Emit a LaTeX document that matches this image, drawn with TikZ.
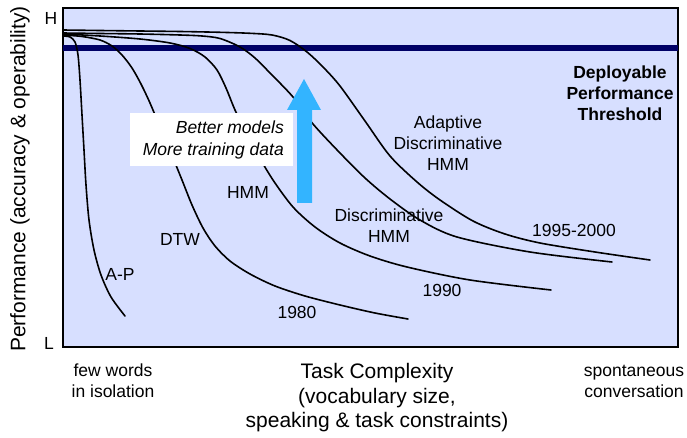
\documentclass[tikz,border=0pt]{standalone}
\usepackage{fontspec}
\setmainfont{Liberation Sans}
\definecolor{plotbg}{RGB}{215,223,255}
\definecolor{navyline}{RGB}{0,0,102}
\definecolor{arrowblue}{RGB}{51,180,255}
\begin{document}
\begin{tikzpicture}[x=1pt,y=-1pt,
  curve/.style={line width=1.6pt, line cap=round, line join=round},
  lbl/.style={font=\fontsize{17.5}{21}\selectfont, inner sep=0pt, align=center},
  biglbl/.style={font=\fontsize{21}{24.5}\selectfont, inner sep=0pt, align=center},
  boldlbl/.style={font=\fontsize{17.5}{21}\selectfont\bfseries, inner sep=0pt, align=center}]
\useasboundingbox (0,0) rectangle (687,438);
\fill[white] (0,0) rectangle (687,438);
% plot area
\draw[fill=plotbg, line width=1.3pt] (63,8) rectangle (678,347);
% threshold
\draw[navyline, line width=5.5pt] (63,48) -- (678,48);
% A-P
\draw[curve] plot[smooth, tension=0.5] coordinates {(63,36) (70,37) (75,42) (78,55) (80,80) (82,115) (84,150) (86,185) (89,220) (94,250) (101,275) (111,297) (125,316)};
% DTW / 1980
\draw[curve] plot[smooth, tension=0.5] coordinates {(63,35) (82,36.5) (100,40) (112,46) (122,55) (132,68) (141,84) (150,103) (160,127) (171,153) (182,180) (192,205) (203,228) (215,246) (230,261) (250,274) (275,286) (305,296) (340,305) (375,313) (408,319)};
% HMM / 1990
\draw[curve] plot[smooth, tension=0.5] coordinates {(63,34) (100,36) (140,39) (170,43) (190,48.5) (205,57) (217,70) (226,88) (235,110) (245,130) (255,150) (273,180) (293,207) (315,227) (340,243) (370,256) (407,267) (470,280) (551,290)};
% Discriminative HMM
\draw[curve] plot[smooth, tension=0.5] coordinates {(63,33) (100,33.5) (140,34) (180,35) (202,36) (220,38.5) (240,47) (255,58) (270,73) (293,97) (313,124) (340,153) (365,178) (390,199) (420,220) (457,237) (530,252) (612,262)};
% Adaptive Discriminative HMM / 1995-2000
\draw[curve] plot[smooth, tension=0.5] coordinates {(63,30) (100,30.5) (140,31) (180,31.5) (220,32.3) (250,33.3) (272,35) (290,40.5) (307,52) (323,67) (340,86) (365,121) (390,156) (417,182) (440,200) (473,221) (505,234) (540,243) (595,252) (650,260)};
% white box
\fill[white] (130,113) rectangle (293,166);
\node[lbl, align=right, anchor=east, font=\fontsize{17.5}{22}\selectfont\itshape] (better) at (284,140) {Better models\\More training data};
% blue arrow
\fill[arrowblue] (297,203) -- (297,110) -- (287,110) -- (304,79) -- (321,110) -- (312,110) -- (312,203) -- cycle;
% axis end labels
\node[lbl] (H) at (51,18) {H};
\node[lbl] (L) at (49,343) {L};
\node[biglbl, rotate=90] (ylab) at (20,179) {Performance (accuracy \& operability)};
% curve labels
\node[lbl] (ap) at (120,274) {A-P};
\node[lbl] (dtw) at (180,239) {DTW};
\node[lbl] (hmm) at (248,192) {HMM};
\node[lbl] (y1980) at (297,312) {1980};
\node[lbl] (y1990) at (442,290) {1990};
\node[lbl] (y1995) at (574,230) {1995-2000};
\node[lbl] (dhmm) at (389,226) {Discriminative\\HMM};
\node[lbl] (adhmm) at (448,143) {Adaptive\\Discriminative\\HMM};
\node[boldlbl] (thr) at (620,93) {Deployable\\Performance\\Threshold};
% bottom labels
\node[lbl] (few) at (113,381) {few words\\in isolation};
\node[biglbl] (task) at (377,398) {Task Complexity\\(vocabulary size,\\speaking \& task constraints)};
\node[lbl] (spont) at (634,381) {spontaneous\\conversation};
\end{tikzpicture}
\end{document}
